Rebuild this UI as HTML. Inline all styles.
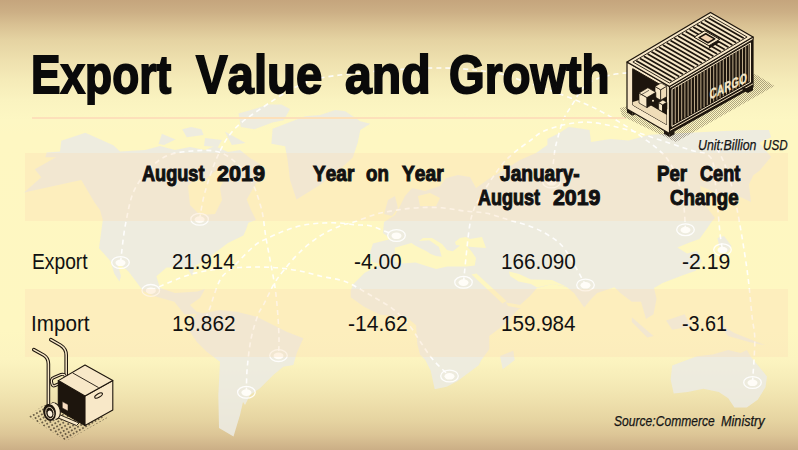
<!DOCTYPE html>
<html><head><meta charset="utf-8"><style>
html,body{margin:0;padding:0;}
body{width:798px;height:450px;overflow:hidden;position:relative;font-family:"Liberation Sans",sans-serif;
background:linear-gradient(to bottom,#c5a57d 0px,#ccaf85 12px,#d9c193 25px,#e5d3a2 40px,#eee0ae 60px,#f5ebb8 80px,#faf3c0 100px,#fdf7c3 120px,#fef7c2 135px,#fef7c1 330px,#fcf4c0 360px,#f6ecb8 380px,#efe1ad 400px,#e6d4a1 420px,#dcc596 435px,#cbae86 450px);}
.t{position:absolute;white-space:pre;transform-origin:0 0;font-kerning:none;}
.band{position:absolute;left:24.7px;width:763.2px;background:rgba(253,222,180,0.32);}
svg{position:absolute;left:0;top:0;}
</style></head><body>
<svg width="798" height="450" viewBox="0 0 798 450" style="position:absolute;left:0;top:0">
<polygon points="24.0,192.5 41.3,177.3 34.7,169.3 56.0,157.3 45.3,157.3 46.7,152.5 60.0,151.5 61.3,140.8 85.3,132.8 113.3,145.3 120.0,151.5 145.3,149.9 160.0,146.0 175.0,150.0 190.0,147.0 205.0,150.0 215.0,146.0 228.0,152.0 240.0,150.0 250.0,158.0 260.0,164.0 262.0,175.0 255.0,185.0 246.7,199.4 251.0,210.0 256.0,220.0 248.4,222.7 245.8,230.3 243.3,235.4 228.0,243.0 207.5,258.4 194.7,266.0 192.2,276.3 187.0,267.4 166.6,267.4 156.4,276.3 160.0,288.0 175.0,293.0 197.3,291.6 205.0,289.0 200.0,298.0 190.0,305.0 196.7,311.7 203.3,313.3 184.5,314.6 174.3,301.8 156.4,296.7 143.6,291.6 128.3,271.2 117.0,262.0 121.0,276.0 119.4,281.4 114.3,273.7 110.4,261.0 99.0,248.2 102.8,220.0 100.0,210.0 94.7,202.7 81.3,180.0" fill="rgba(236,234,226,0.88)"/>
<polygon points="238.6,113.5 254.4,109.0 268.0,104.5 281.4,104.5 290.0,109.0 283.7,120.3 272.4,122.6 254.4,129.3 240.8,127.0" fill="rgba(236,234,226,0.88)"/>
<polygon points="182.2,129.3 191.2,127.0 201.4,129.3 203.6,135.0 186.7,137.2" fill="rgba(236,234,226,0.88)"/>
<polygon points="161.9,133.8 175.4,139.5 164.1,145.0 158.5,144.0" fill="rgba(236,234,226,0.88)"/>
<polygon points="225.0,131.6 245.4,142.9 231.8,145.0" fill="rgba(236,234,226,0.88)"/>
<polygon points="205.0,138.0 222.0,140.0 218.0,147.0 204.0,146.0" fill="rgba(236,234,226,0.88)"/>
<polygon points="305.2,116.3 320.2,115.0 335.3,110.0 345.3,111.3 360.3,121.3 370.3,123.8 360.3,130.0 357.8,142.6 352.8,157.6 341.7,167.7 320.0,185.0 296.5,199.6 290.0,180.0 287.6,160.0 285.1,146.3 271.4,143.8 272.6,128.8" fill="rgba(236,234,226,0.88)"/>
<polygon points="196.7,313.3 203.3,313.3 220.0,310.0 236.7,311.7 256.7,316.7 276.7,326.7 286.7,331.7 303.3,338.3 296.7,353.3 293.3,365.0 283.3,366.7 273.3,375.0 260.0,388.3 250.0,395.0 245.0,405.0 243.0,402.0 240.0,415.0 233.5,436.5 219.0,428.0 218.3,395.0 220.0,361.7 206.7,351.7 196.7,341.7 190.0,331.7 191.7,321.7" fill="rgba(236,234,226,0.88)"/>
<polygon points="373.0,243.5 391.0,239.0 383.0,233.0 384.0,222.0 395.0,215.0 400.0,206.0 405.0,196.0 412.0,188.0 425.0,191.0 440.0,186.0 446.0,178.0 458.0,175.0 470.0,177.0 476.0,188.0 490.0,178.0 504.0,170.0 520.0,160.0 536.0,153.0 547.4,145.0 547.4,139.0 559.4,133.0 568.4,127.0 580.5,128.6 589.5,130.0 591.0,142.0 610.5,139.0 628.6,140.6 649.6,134.8 699.0,132.3 724.0,131.0 753.8,129.9 768.9,129.9 771.2,137.2 759.5,142.7 762.7,147.3 771.2,156.7 759.5,170.7 753.3,175.3 748.9,184.4 751.0,202.0 738.0,196.0 720.0,194.0 700.0,186.0 705.0,205.0 715.0,218.0 711.6,221.8 706.7,229.0 699.4,239.0 689.6,242.6 677.4,247.5 687.0,253.6 697.0,251.0 701.8,261.0 695.7,270.7 682.2,275.6 662.7,283.0 654.0,288.0 656.6,298.7 653.5,314.2 646.0,319.0 641.0,301.8 631.8,301.7 620.3,293.0 614.5,287.3 597.2,293.0 591.4,298.8 584.2,307.5 574.0,293.0 566.6,287.0 552.4,284.0 537.0,288.0 530.0,296.0 520.0,305.0 506.0,302.5 508.0,306.0 521.0,308.5 518.7,309.0 510.7,317.3 500.0,328.0 489.3,336.0 489.3,349.3 481.3,360.0 478.7,365.3 468.0,373.3 457.3,381.3 446.7,386.7 434.7,389.3 430.7,370.7 425.3,360.0 420.0,354.7 417.3,344.0 416.0,325.3 406.7,317.3 380.0,314.7 364.0,306.7 350.7,297.3 350.7,290.7 353.0,284.4 364.7,272.8 378.0,266.0 381.0,264.0 372.0,262.0 370.0,252.6" fill="rgba(236,234,226,0.88)"/>
<polygon points="500.0,356.0 513.3,350.7 514.7,360.0 502.7,369.3" fill="rgba(236,234,226,0.88)"/>
<polygon points="388.0,200.0 395.0,196.0 398.0,208.0 392.0,216.0 384.0,214.0" fill="rgba(236,234,226,0.88)"/>
<polygon points="717.5,238.0 724.0,236.0 731.5,246.0 728.0,252.0 720.0,250.0" fill="rgba(236,234,226,0.88)"/>
<polygon points="631.8,317.3 653.5,336.0 647.3,337.5 631.8,322.0" fill="rgba(236,234,226,0.88)"/>
<polygon points="666.0,320.4 684.6,314.2 690.8,326.6 672.2,329.7" fill="rgba(236,234,226,0.88)"/>
<polygon points="718.8,323.5 734.4,332.9 765.5,345.3 750.0,342.2 728.0,336.0" fill="rgba(236,234,226,0.88)"/>
<polygon points="672.2,365.5 697.0,356.2 712.6,354.6 728.2,350.0 740.6,353.0 746.8,350.0 751.5,357.7 759.3,367.0 767.0,376.4 765.5,387.3 757.7,399.7 746.8,407.5 734.4,407.5 728.2,398.2 718.8,392.0 703.3,388.8 687.7,392.0 673.7,393.5 670.6,379.5" fill="rgba(236,234,226,0.88)"/>
<polygon points="188.0,186.0 196.0,178.0 205.0,180.0 214.0,172.0 222.0,168.0 224.0,180.0 220.0,188.0 222.0,200.0 215.0,214.0 200.0,215.0 190.0,205.0" fill="#fef7c1"/>
<polygon points="395.0,262.0 394.8,247.8 411.4,243.0 415.5,245.7 426.6,251.2 430.7,254.0 436.0,256.0 441.7,256.7 439.0,247.0 429.3,240.2 419.0,240.9 423.0,238.0 432.0,238.0 442.0,244.0 447.0,250.0 452.8,251.2 459.7,245.7 461.0,242.0 466.0,245.0 472.0,252.0 476.0,258.0 474.8,265.5 466.6,266.4 447.2,266.4 436.2,269.1 428.0,266.4 415.5,262.5 401.7,263.5" fill="#fef7c1"/>
<polygon points="460.0,238.0 466.0,237.0 470.0,239.0 482.0,237.0 486.0,248.0 472.0,247.0 456.0,245.0 455.0,242.0" fill="#fef7c1"/>
<polygon points="471.5,274.5 476.5,273.5 506.5,301.0 502.5,303.5" fill="#fef7c1"/>
<polygon points="509.0,271.5 519.0,274.0 531.0,279.5 552.0,280.0 566.0,286.5 552.4,284.0 537.0,287.5 531.0,284.0 518.6,281.6 510.0,276.0" fill="#fef7c1"/>
<polygon points="418.0,196.0 430.0,193.0 440.0,198.0 436.0,206.0 420.0,206.0" fill="#fef7c1"/>
<path d="M120.5,262.5 C121.4,255.8 123.2,235.2 125.8,222.6 C128.4,210.0 130.1,197.5 136.0,186.8 C141.9,176.2 152.1,164.7 161.5,158.7 C170.9,152.7 182.0,151.8 192.2,151.0 C202.4,150.2 213.4,149.3 222.8,153.6 C232.2,157.9 242.0,167.6 248.4,176.6 C254.8,185.6 258.1,197.1 261.0,207.3 C263.9,217.5 264.2,227.6 266.0,238.0 C267.8,248.4 270.4,261.3 272.0,270.0 C273.6,278.7 274.4,282.6 275.4,290.0 C276.4,297.4 277.2,306.2 277.8,314.4 C278.4,322.6 278.9,332.1 279.0,339.0 C279.1,345.9 278.6,352.8 278.5,355.6" fill="none" stroke="#ffffff" stroke-width="1.6" stroke-dasharray="5 4" opacity="0.9"/>
<path d="M199.6,219.3 C200.5,214.8 202.0,202.6 205.0,192.0 C208.0,181.4 213.0,166.2 217.7,156.0 C222.4,145.8 226.2,138.3 233.0,130.7 C239.8,123.1 247.4,117.8 258.6,110.2 C269.8,102.6 286.4,90.9 300.0,85.0 C313.6,79.1 318.3,77.8 340.0,75.0 C361.7,72.2 405.0,68.5 430.0,68.0 C455.0,67.5 473.9,69.6 490.0,72.0 C506.1,74.4 512.4,77.5 526.7,82.2 C541.0,86.9 562.7,94.8 575.6,100.0 C588.5,105.2 593.7,107.4 604.4,113.3 C615.1,119.2 629.4,127.8 640.0,135.6 C650.6,143.4 661.0,150.1 668.0,160.0 C675.0,169.9 679.1,183.4 682.0,195.0 C684.9,206.6 684.9,223.9 685.5,229.7" fill="none" stroke="#ffffff" stroke-width="1.6" stroke-dasharray="5 4" opacity="0.9"/>
<path d="M551.5,182.0 C552.0,177.2 553.4,160.7 554.4,153.3 C555.4,145.9 556.3,143.4 557.8,137.8 C559.3,132.2 561.1,125.2 563.3,120.0 C565.5,114.8 567.1,112.6 571.0,106.7 C574.9,100.8 580.0,89.7 586.7,84.4 C593.4,79.1 602.1,77.1 611.0,75.0 C619.9,72.9 635.2,72.5 640.0,72.0" fill="none" stroke="#ffffff" stroke-width="1.6" stroke-dasharray="5 4" opacity="0.9"/>
<path d="M463.5,282.3 C464.4,273.8 467.3,242.9 468.9,231.0 C470.5,219.1 471.4,216.5 473.3,211.0 C475.2,205.5 477.1,203.0 480.0,197.8 C482.9,192.6 487.3,185.6 491.0,180.0 C494.7,174.4 498.5,168.8 502.2,164.4 C505.9,160.0 508.5,157.4 513.3,153.3 C518.1,149.2 525.9,143.7 531.0,140.0 C536.1,136.3 537.8,133.7 544.0,131.0 C550.2,128.3 559.9,125.4 568.0,124.0 C576.1,122.6 582.4,121.5 592.5,122.5 C602.6,123.5 617.4,127.1 628.6,130.0 C639.9,132.9 649.8,136.7 660.0,140.0 C670.2,143.3 681.5,147.0 690.0,150.0 C698.5,153.0 706.7,151.3 711.0,158.0 C715.3,164.7 714.5,177.5 716.0,190.0 C717.5,202.5 718.9,223.0 720.0,233.0 C721.1,243.0 722.1,247.0 722.5,249.8" fill="none" stroke="#ffffff" stroke-width="1.6" stroke-dasharray="5 4" opacity="0.9"/>
<path d="M246.4,392.3 C246.5,388.3 246.4,377.1 247.2,368.2 C248.0,359.3 249.2,348.0 251.0,339.0 C252.8,330.0 256.0,320.2 258.2,314.4 C260.4,308.6 261.4,309.1 264.0,304.0 C266.6,298.9 270.7,289.7 274.0,284.0 C277.3,278.3 279.7,275.3 284.0,270.0 C288.3,264.7 294.0,257.7 300.0,252.0 C306.0,246.3 313.3,240.3 320.0,236.0 C326.7,231.7 334.1,228.4 340.0,226.0 C345.9,223.6 349.2,223.6 355.3,221.6 C361.4,219.6 369.5,215.9 376.6,214.0 C383.7,212.1 390.9,211.0 398.0,209.9 C405.1,208.8 412.0,208.0 419.3,207.7 C426.6,207.3 434.5,207.2 442.0,207.8 C449.5,208.4 456.9,210.1 464.4,211.0 C471.8,211.9 479.3,211.8 486.7,213.3 C494.1,214.8 501.6,217.8 509.0,220.0 C516.4,222.2 524.3,224.1 531.0,226.7 C537.7,229.3 543.3,231.8 549.0,235.6 C554.7,239.4 558.9,241.3 565.0,249.5 C571.1,257.7 582.1,279.1 585.5,285.0" fill="none" stroke="#ffffff" stroke-width="1.6" stroke-dasharray="5 4" opacity="0.9"/>
<path d="M150.8,290.4 C155.7,288.3 171.8,281.1 180.0,278.0 C188.2,274.9 193.3,273.5 200.0,272.0 C206.7,270.5 213.3,269.8 220.0,269.0 C226.7,268.2 233.3,267.8 240.0,267.5 C246.7,267.2 253.3,266.9 260.0,267.0 C266.7,267.1 273.3,267.3 280.0,268.0 C286.7,268.7 293.3,269.7 300.0,271.0 C306.7,272.3 313.3,274.5 320.0,276.0 C326.7,277.5 334.9,278.7 340.0,280.0 C345.1,281.3 345.4,281.3 350.7,284.0 C356.0,286.7 364.9,291.8 372.0,296.0 C379.1,300.2 387.1,304.4 393.3,309.3 C399.5,314.2 404.9,320.0 409.3,325.3 C413.8,330.6 416.0,335.5 420.0,341.3 C424.0,347.1 428.4,354.2 433.3,360.0 C438.2,365.8 446.8,373.3 449.5,376.0" fill="none" stroke="#ffffff" stroke-width="1.6" stroke-dasharray="5 4" opacity="0.9"/>
<path d="M205.0,318.0 C205.7,316.6 206.8,315.9 209.3,309.6 C211.8,303.3 215.9,287.3 220.0,280.0 C224.1,272.7 228.3,271.7 234.0,266.0 C239.7,260.3 248.7,250.5 254.0,246.0 C259.3,241.5 261.0,241.5 266.0,239.0 C271.0,236.5 277.7,233.3 284.0,231.0 C290.3,228.7 297.3,226.3 304.0,225.0 C310.7,223.7 318.0,223.3 324.0,223.0 C330.0,222.7 334.8,222.7 340.0,223.0 C345.2,223.3 350.3,224.3 355.3,224.8 C360.3,225.3 365.2,224.7 370.2,225.8 C375.1,226.9 380.6,229.6 385.0,231.2 C389.4,232.8 394.6,234.8 396.5,235.5" fill="none" stroke="#ffffff" stroke-width="1.6" stroke-dasharray="5 4" opacity="0.9"/>
<path d="M752.5,382.5 C752.9,375.4 754.9,351.1 754.8,340.0 C754.7,328.9 753.3,328.0 752.0,316.0 C750.7,304.0 749.5,286.7 746.8,268.0 C744.1,249.3 739.6,221.2 736.0,204.0 C732.4,186.8 729.0,175.7 725.0,165.0 C721.0,154.3 714.2,144.2 712.0,140.0" fill="none" stroke="#ffffff" stroke-width="1.6" stroke-dasharray="5 4" opacity="0.9"/>
<ellipse cx="120.5" cy="262.5" rx="8.8" ry="5.9" fill="none" stroke="#ffffff" stroke-width="1.3" opacity="0.9"/>
<ellipse cx="120.5" cy="262.8" rx="5" ry="3.3" fill="#fffdf8"/>
<ellipse cx="150.8" cy="290.4" rx="8.8" ry="5.9" fill="none" stroke="#ffffff" stroke-width="1.3" opacity="0.9"/>
<ellipse cx="150.8" cy="290.7" rx="5" ry="3.3" fill="#fffdf8"/>
<ellipse cx="199.6" cy="219.3" rx="8.8" ry="5.9" fill="none" stroke="#ffffff" stroke-width="1.3" opacity="0.9"/>
<ellipse cx="199.6" cy="219.60000000000002" rx="5" ry="3.3" fill="#fffdf8"/>
<ellipse cx="278.5" cy="355.6" rx="8.8" ry="5.9" fill="none" stroke="#ffffff" stroke-width="1.3" opacity="0.9"/>
<ellipse cx="278.5" cy="355.90000000000003" rx="5" ry="3.3" fill="#fffdf8"/>
<ellipse cx="246.4" cy="392.3" rx="8.8" ry="5.9" fill="none" stroke="#ffffff" stroke-width="1.3" opacity="0.9"/>
<ellipse cx="246.4" cy="392.6" rx="5" ry="3.3" fill="#fffdf8"/>
<ellipse cx="396.5" cy="235.5" rx="8.8" ry="5.9" fill="none" stroke="#ffffff" stroke-width="1.3" opacity="0.9"/>
<ellipse cx="396.5" cy="235.8" rx="5" ry="3.3" fill="#fffdf8"/>
<ellipse cx="463.5" cy="282.3" rx="8.8" ry="5.9" fill="none" stroke="#ffffff" stroke-width="1.3" opacity="0.9"/>
<ellipse cx="463.5" cy="282.6" rx="5" ry="3.3" fill="#fffdf8"/>
<ellipse cx="449.5" cy="376" rx="8.8" ry="5.9" fill="none" stroke="#ffffff" stroke-width="1.3" opacity="0.9"/>
<ellipse cx="449.5" cy="376.3" rx="5" ry="3.3" fill="#fffdf8"/>
<ellipse cx="585.5" cy="285" rx="8.8" ry="5.9" fill="none" stroke="#ffffff" stroke-width="1.3" opacity="0.9"/>
<ellipse cx="585.5" cy="285.3" rx="5" ry="3.3" fill="#fffdf8"/>
<ellipse cx="685.5" cy="229.7" rx="8.8" ry="5.9" fill="none" stroke="#ffffff" stroke-width="1.3" opacity="0.9"/>
<ellipse cx="685.5" cy="230.0" rx="5" ry="3.3" fill="#fffdf8"/>
<ellipse cx="722.5" cy="249.8" rx="8.8" ry="5.9" fill="none" stroke="#ffffff" stroke-width="1.3" opacity="0.9"/>
<ellipse cx="722.5" cy="250.10000000000002" rx="5" ry="3.3" fill="#fffdf8"/>
<ellipse cx="752.5" cy="382.5" rx="8.8" ry="5.9" fill="none" stroke="#ffffff" stroke-width="1.3" opacity="0.9"/>
<ellipse cx="752.5" cy="382.8" rx="5" ry="3.3" fill="#fffdf8"/>
<ellipse cx="551.5" cy="182" rx="8.8" ry="5.9" fill="none" stroke="#ffffff" stroke-width="1.3" opacity="0.9"/>
<ellipse cx="551.5" cy="182.3" rx="5" ry="3.3" fill="#fffdf8"/>
</svg>
<div class="band" style="top:153px;height:67.7px"></div>
<div class="band" style="top:289.3px;height:67.8px"></div>
<div style="position:absolute;left:32.3px;top:117px;width:594px;height:2px;background:#fde0ba"></div>
<svg width="798" height="450" viewBox="0 0 798 450" style="position:absolute;left:0;top:0"><defs>
<pattern id="dots" width="2" height="2" patternUnits="userSpaceOnUse"><rect x="0" y="0" width="1" height="1" fill="#4a3c28" opacity="0.42"/><rect x="1" y="1" width="1" height="1" fill="#4a3c28" opacity="0.42"/></pattern>
<pattern id="dots2" width="3.6" height="3.6" patternUnits="userSpaceOnUse" patternTransform="rotate(-30)"><circle cx="1.8" cy="1.8" r="0.8" fill="#2a2015" opacity="0.95"/></pattern>
</defs>
<polygon points="620.00,108.00 622.00,116.00 676.00,142.00 774.50,86.00 755.00,74.00" fill="url(#dots)" />
<polygon points="669.50,86.50 753.00,37.00 753.00,86.82 669.50,133.50" fill="#1d150d" stroke="#1d150d" stroke-width="1.2" stroke-linejoin="round" />
<polygon points="669.50,86.50 753.00,37.00 753.00,39.49 669.50,88.85" fill="#f8e8c8" stroke="#1d150d" stroke-width="0.8" stroke-linejoin="round" />
<polygon points="672.00,89.25 750.50,42.96 750.50,82.25 672.00,126.45" fill="none" stroke="#f8e8c8" stroke-width="1.0" stroke-linejoin="round" />
<line x1="675.28" y1="87.80" x2="675.28" y2="123.19" stroke="#d2bd98" stroke-width="0.9" />
<line x1="678.48" y1="85.91" x2="678.48" y2="121.39" stroke="#d2bd98" stroke-width="0.9" />
<line x1="681.68" y1="84.02" x2="681.68" y2="119.58" stroke="#d2bd98" stroke-width="0.9" />
<line x1="684.88" y1="82.14" x2="684.88" y2="117.78" stroke="#d2bd98" stroke-width="0.9" />
<line x1="688.08" y1="80.25" x2="688.08" y2="115.97" stroke="#d2bd98" stroke-width="0.9" />
<line x1="691.28" y1="78.36" x2="691.28" y2="114.16" stroke="#d2bd98" stroke-width="0.9" />
<line x1="694.48" y1="76.48" x2="694.48" y2="112.36" stroke="#d2bd98" stroke-width="0.9" />
<line x1="697.68" y1="74.59" x2="697.68" y2="110.55" stroke="#d2bd98" stroke-width="0.9" />
<line x1="700.88" y1="72.70" x2="700.88" y2="108.75" stroke="#d2bd98" stroke-width="0.9" />
<line x1="704.08" y1="70.82" x2="704.08" y2="106.94" stroke="#d2bd98" stroke-width="0.9" />
<line x1="707.28" y1="68.93" x2="707.28" y2="105.14" stroke="#d2bd98" stroke-width="0.9" />
<line x1="710.48" y1="67.04" x2="710.48" y2="103.33" stroke="#d2bd98" stroke-width="0.9" />
<line x1="713.69" y1="65.16" x2="713.69" y2="101.52" stroke="#d2bd98" stroke-width="0.9" />
<line x1="716.89" y1="63.27" x2="716.89" y2="99.72" stroke="#d2bd98" stroke-width="0.9" />
<line x1="720.09" y1="61.38" x2="720.09" y2="97.91" stroke="#d2bd98" stroke-width="0.9" />
<line x1="723.29" y1="59.50" x2="723.29" y2="96.11" stroke="#d2bd98" stroke-width="0.9" />
<line x1="726.49" y1="57.61" x2="726.49" y2="94.30" stroke="#d2bd98" stroke-width="0.9" />
<line x1="729.69" y1="55.72" x2="729.69" y2="92.50" stroke="#d2bd98" stroke-width="0.9" />
<line x1="732.89" y1="53.84" x2="732.89" y2="90.69" stroke="#d2bd98" stroke-width="0.9" />
<line x1="736.09" y1="51.95" x2="736.09" y2="88.89" stroke="#d2bd98" stroke-width="0.9" />
<line x1="739.29" y1="50.06" x2="739.29" y2="87.08" stroke="#d2bd98" stroke-width="0.9" />
<line x1="742.49" y1="48.18" x2="742.49" y2="85.27" stroke="#d2bd98" stroke-width="0.9" />
<line x1="745.69" y1="46.29" x2="745.69" y2="83.47" stroke="#d2bd98" stroke-width="0.9" />
<line x1="748.89" y1="44.40" x2="748.89" y2="81.66" stroke="#d2bd98" stroke-width="0.9" />
<line x1="669.50" y1="130.68" x2="753.00" y2="83.83" stroke="#efdcb8" stroke-width="1.0" />
<polygon points="627.00,109.00 632.52,112.19 632.52,115.69 627.00,112.50" fill="#1d150d" />
<polygon points="632.52,112.19 637.53,109.38 637.53,112.88 632.52,115.69" fill="#1d150d" />
<polygon points="663.98,130.31 669.50,133.50 669.50,137.00 663.98,133.81" fill="#1d150d" />
<polygon points="669.50,133.50 674.51,130.70 674.51,134.20 669.50,137.00" fill="#1d150d" />
<polygon points="742.47,86.44 747.99,89.62 747.99,93.12 742.47,89.94" fill="#1d150d" />
<polygon points="747.99,89.62 753.00,86.82 753.00,90.32 747.99,93.12" fill="#1d150d" />
<polygon points="627.00,62.00 669.50,86.50 669.50,133.50 627.00,109.00" fill="#f8e8c8" stroke="#1d150d" stroke-width="1.2" stroke-linejoin="round" />
<polygon points="632.70,68.71 666.52,88.22 666.52,124.50 632.70,105.00" fill="#1d150d" stroke="#1d150d" stroke-width="1.0" stroke-linejoin="round" />
<polygon points="632.70,105.00 666.52,124.50 666.52,114.86 641.00,99.50 632.70,101.94" fill="#efdcb8" />
<polygon points="655.00,97.00 660.63,100.25 660.63,89.75 655.00,86.50" fill="#f8e8c8" stroke="#1d150d" stroke-width="0.7" stroke-linejoin="round" />
<polygon points="660.63,100.25 666.65,96.68 666.65,86.18 660.63,89.75" fill="#efdcb8" stroke="#1d150d" stroke-width="0.7" stroke-linejoin="round" />
<polygon points="655.00,86.50 660.63,89.75 666.65,86.18 661.02,82.93" fill="#f8e8c8" stroke="#1d150d" stroke-width="0.7" stroke-linejoin="round" />
<polygon points="639.00,103.00 646.97,107.59 646.97,97.59 639.00,93.00" fill="#f8e8c8" stroke="#1d150d" stroke-width="0.7" stroke-linejoin="round" />
<polygon points="646.97,107.59 655.83,102.34 655.83,92.34 646.97,97.59" fill="#1d150d" stroke="#1d150d" stroke-width="0.7" stroke-linejoin="round" />
<polygon points="639.00,93.00 646.97,97.59 655.83,92.34 647.86,87.75" fill="#f8e8c8" stroke="#1d150d" stroke-width="0.7" stroke-linejoin="round" />
<circle cx="653" cy="100.8" r="1" fill="#f8e8c8"/>
<line x1="640.50" y1="95.20" x2="649.00" y2="90.30" stroke="#1d150d" stroke-width="0.6" />
<polygon points="658.60,109.50 662.58,111.80 662.58,104.80 658.60,102.50" fill="#f8e8c8" stroke="#1d150d" stroke-width="0.7" stroke-linejoin="round" />
<polygon points="662.58,111.80 666.88,109.25 666.88,102.25 662.58,104.80" fill="#1d150d" stroke="#1d150d" stroke-width="0.7" stroke-linejoin="round" />
<polygon points="658.60,102.50 662.58,104.80 666.88,102.25 662.90,99.95" fill="#f8e8c8" stroke="#1d150d" stroke-width="0.7" stroke-linejoin="round" />
<polygon points="627.00,62.00 710.50,12.50 753.00,37.00 669.50,86.50" fill="#f8e8c8" stroke="#1d150d" stroke-width="1.3" stroke-linejoin="round" />
<polygon points="632.90,61.98 710.55,15.95 747.10,37.02 669.45,83.05" fill="#f8e8c8" stroke="#1d150d" stroke-width="0.9" stroke-linejoin="round" />
<line x1="636.27" y1="60.73" x2="671.54" y2="81.06" stroke="#1d150d" stroke-width="1.7" />
<line x1="640.07" y1="58.48" x2="675.34" y2="78.81" stroke="#1d150d" stroke-width="1.7" />
<line x1="643.87" y1="56.22" x2="679.14" y2="76.56" stroke="#1d150d" stroke-width="1.7" />
<line x1="647.67" y1="53.97" x2="682.94" y2="74.31" stroke="#1d150d" stroke-width="1.7" />
<line x1="651.47" y1="51.72" x2="686.74" y2="72.05" stroke="#1d150d" stroke-width="1.7" />
<line x1="655.27" y1="49.47" x2="690.54" y2="69.80" stroke="#1d150d" stroke-width="1.7" />
<line x1="659.07" y1="47.22" x2="694.34" y2="67.55" stroke="#1d150d" stroke-width="1.7" />
<line x1="662.86" y1="44.96" x2="698.14" y2="65.30" stroke="#1d150d" stroke-width="1.7" />
<line x1="666.66" y1="42.71" x2="701.94" y2="63.05" stroke="#1d150d" stroke-width="1.7" />
<line x1="670.46" y1="40.46" x2="705.74" y2="60.79" stroke="#1d150d" stroke-width="1.7" />
<line x1="674.26" y1="38.21" x2="709.54" y2="58.54" stroke="#1d150d" stroke-width="1.7" />
<line x1="678.06" y1="35.95" x2="713.34" y2="56.29" stroke="#1d150d" stroke-width="1.7" />
<line x1="681.86" y1="33.70" x2="717.14" y2="54.04" stroke="#1d150d" stroke-width="1.7" />
<line x1="685.66" y1="31.45" x2="720.93" y2="51.78" stroke="#1d150d" stroke-width="1.7" />
<line x1="689.46" y1="29.20" x2="724.73" y2="49.53" stroke="#1d150d" stroke-width="1.7" />
<line x1="693.26" y1="26.95" x2="728.53" y2="47.28" stroke="#1d150d" stroke-width="1.7" />
<line x1="697.06" y1="24.69" x2="732.33" y2="45.03" stroke="#1d150d" stroke-width="1.7" />
<line x1="700.86" y1="22.44" x2="736.13" y2="42.78" stroke="#1d150d" stroke-width="1.7" />
<line x1="704.66" y1="20.19" x2="739.93" y2="40.52" stroke="#1d150d" stroke-width="1.7" />
<line x1="708.46" y1="17.94" x2="743.73" y2="38.27" stroke="#1d150d" stroke-width="1.7" />
<polygon points="704.88,30.74 719.75,39.31 708.90,45.75 708.90,48.75 719.75,42.31 704.88,33.74" fill="#1d150d" />
<polygon points="694.02,37.17 704.88,30.74 719.75,39.31 708.90,45.75" fill="#f8e8c8" stroke="#1d150d" stroke-width="1.0" stroke-linejoin="round" />
<polygon points="699.09,37.65 705.77,33.69 714.69,38.84 708.01,42.80" fill="#f3d3b0" stroke="#1d150d" stroke-width="1.6" stroke-linejoin="round" />
<text x="0" y="0" transform="translate(709.8,99.6) skewY(-25.5) scale(0.68,1)" font-family="Liberation Sans" font-weight="bold" font-size="14" fill="#f8e8c8" stroke="#f8e8c8" stroke-width="0.35" letter-spacing="0.6">CARGO</text>
<polygon points="28.00,416.00 44.00,405.00 108.00,417.50 66.00,441.00" fill="url(#dots2)" />
<polygon points="58.00,414.00 79.00,423.00 76.50,425.50 56.00,417.00" fill="#f8e8c8" stroke="#1d150d" stroke-width="0.9" stroke-linejoin="round" />
<path d="M50.8,339.6 L60.5,345.2 Q66.2,348.8 66.2,355 L66.2,381" fill="none" stroke="#1d150d" stroke-width="3.6" stroke-linecap="round" stroke-linejoin="round"/>
<path d="M50.8,339.6 L60.5,345.2 Q66.2,348.8 66.2,355 L66.2,381" fill="none" stroke="#f8e8c8" stroke-width="1.5" stroke-linecap="round" stroke-linejoin="round"/>
<path d="M33.8,349.6 L43.8,355.2 Q48.4,358 48.4,364 L48.4,407" fill="none" stroke="#1d150d" stroke-width="3.6" stroke-linecap="round" stroke-linejoin="round"/>
<path d="M33.8,349.6 L43.8,355.2 Q48.4,358 48.4,364 L48.4,407" fill="none" stroke="#f8e8c8" stroke-width="1.5" stroke-linecap="round" stroke-linejoin="round"/>
<path d="M52,384 Q50,379 54,377.5 L61,374.5 Q65,373.5 65.5,377 Q66,381 62,382.5 L55,385.5 Q52.5,386.5 52,384 Z" fill="none" stroke="#1d150d" stroke-width="3.2"/>
<path d="M52,384 Q50,379 54,377.5 L61,374.5 Q65,373.5 65.5,377 Q66,381 62,382.5 L55,385.5 Q52.5,386.5 52,384 Z" fill="none" stroke="#f8e8c8" stroke-width="1.2"/>
<polygon points="58.30,380.60 85.00,396.10 85.00,425.60 58.30,410.10" fill="#1d150d" stroke="#1d150d" stroke-width="1.1" stroke-linejoin="round" />
<polygon points="85.00,396.10 112.80,380.60 112.80,410.10 85.00,425.60" fill="#f8e8c8" stroke="#1d150d" stroke-width="1.1" stroke-linejoin="round" />
<polygon points="58.30,380.60 85.00,365.00 112.80,380.60 85.00,396.10" fill="#f8e8c8" stroke="#1d150d" stroke-width="1.1" stroke-linejoin="round" />
<line x1="72.60" y1="372.90" x2="98.60" y2="387.60" stroke="#1d150d" stroke-width="0.9" />
<ellipse cx="98.6" cy="395.5" rx="4.3" ry="1.7" transform="rotate(-30 98.6 395.5)" fill="#f8e8c8" stroke="#1d150d" stroke-width="1.1"/>
<polygon points="62.30,401.50 68.00,404.60 68.00,411.00 62.30,408.00" fill="#f7dcc0" stroke="#1d150d" stroke-width="0.5" stroke-linejoin="round" />
<ellipse cx="54.6" cy="411" rx="5.6" ry="8.4" transform="rotate(-12 54.6 411)" fill="#f8e8c8" stroke="#1d150d" stroke-width="1"/>
<polygon points="49.60,404.00 54.60,402.60 55.60,419.40 50.00,421.00" fill="#f8e8c8" />
<ellipse cx="49.6" cy="412.4" rx="6.3" ry="8.6" transform="rotate(-12 49.6 412.4)" fill="#1d150d"/>
<ellipse cx="49.8" cy="413" rx="4.0" ry="5.8" transform="rotate(-12 49.8 413)" fill="none" stroke="#f8e8c8" stroke-width="0.8"/>
<ellipse cx="50" cy="413.6" rx="2.3" ry="3.2" transform="rotate(-12 50 413.6)" fill="#fbf0dc"/>
</svg>
<span class="t" style="left:31.47px;top:47.95px;font-size:54.51px;line-height:54.51px;font-weight:bold;font-style:normal;color:#0a0a0a;transform:scaleX(0.8118);-webkit-text-stroke:1.8px #0a0a0a">Export</span>
<span class="t" style="left:195.56px;top:47.95px;font-size:54.51px;line-height:54.51px;font-weight:bold;font-style:normal;color:#0a0a0a;transform:scaleX(0.8684);-webkit-text-stroke:1.8px #0a0a0a">Value</span>
<span class="t" style="left:344.88px;top:47.95px;font-size:54.51px;line-height:54.51px;font-weight:bold;font-style:normal;color:#0a0a0a;transform:scaleX(0.8844);-webkit-text-stroke:1.8px #0a0a0a">and</span>
<span class="t" style="left:448.88px;top:47.95px;font-size:54.51px;line-height:54.51px;font-weight:bold;font-style:normal;color:#0a0a0a;transform:scaleX(0.8415);-webkit-text-stroke:1.8px #0a0a0a">Growth</span>
<span class="t" style="left:142.48px;top:162.99px;font-size:21.22px;line-height:21.22px;font-weight:bold;font-style:normal;color:#111;transform:scaleX(0.8554);-webkit-text-stroke:1.0px #111">August</span>
<span class="t" style="left:217.46px;top:162.99px;font-size:21.22px;line-height:21.22px;font-weight:bold;font-style:normal;color:#111;transform:scaleX(1.0196);-webkit-text-stroke:1.0px #111">2019</span>
<span class="t" style="left:313.12px;top:162.99px;font-size:21.22px;line-height:21.22px;font-weight:bold;font-style:normal;color:#111;transform:scaleX(0.8978);-webkit-text-stroke:1.0px #111">Year</span>
<span class="t" style="left:366.11px;top:162.99px;font-size:21.22px;line-height:21.22px;font-weight:bold;font-style:normal;color:#111;transform:scaleX(0.8797);-webkit-text-stroke:1.0px #111">on</span>
<span class="t" style="left:401.62px;top:162.99px;font-size:21.22px;line-height:21.22px;font-weight:bold;font-style:normal;color:#111;transform:scaleX(0.9043);-webkit-text-stroke:1.0px #111">Year</span>
<span class="t" style="left:499.66px;top:162.99px;font-size:21.22px;line-height:21.22px;font-weight:bold;font-style:normal;color:#111;transform:scaleX(0.9005);-webkit-text-stroke:1.0px #111">January-</span>
<span class="t" style="left:478.38px;top:186.99px;font-size:21.22px;line-height:21.22px;font-weight:bold;font-style:normal;color:#111;transform:scaleX(0.8473);-webkit-text-stroke:1.0px #111">August</span>
<span class="t" style="left:553.06px;top:186.99px;font-size:21.22px;line-height:21.22px;font-weight:bold;font-style:normal;color:#111;transform:scaleX(1.0046);-webkit-text-stroke:1.0px #111">2019</span>
<span class="t" style="left:657.29px;top:162.99px;font-size:21.22px;line-height:21.22px;font-weight:bold;font-style:normal;color:#111;transform:scaleX(0.8813);-webkit-text-stroke:1.0px #111">Per</span>
<span class="t" style="left:700.48px;top:162.99px;font-size:21.22px;line-height:21.22px;font-weight:bold;font-style:normal;color:#111;transform:scaleX(0.8527);-webkit-text-stroke:1.0px #111">Cent</span>
<span class="t" style="left:670.37px;top:186.99px;font-size:21.22px;line-height:21.22px;font-weight:bold;font-style:normal;color:#111;transform:scaleX(0.8806);-webkit-text-stroke:1.0px #111">Change</span>
<span class="t" style="left:32.02px;top:249.99px;font-size:22.82px;line-height:22.82px;font-weight:normal;font-style:normal;color:#111;transform:scaleX(0.8433);-webkit-text-stroke:0px #111">Export</span>
<span class="t" style="left:172.47px;top:249.99px;font-size:22.82px;line-height:22.82px;font-weight:normal;font-style:normal;color:#111;transform:scaleX(0.8958);-webkit-text-stroke:0px #111">21.914</span>
<span class="t" style="left:353.77px;top:249.99px;font-size:22.82px;line-height:22.82px;font-weight:normal;font-style:normal;color:#111;transform:scaleX(0.9160);-webkit-text-stroke:0px #111">-4.00</span>
<span class="t" style="left:501.32px;top:249.99px;font-size:22.82px;line-height:22.82px;font-weight:normal;font-style:normal;color:#111;transform:scaleX(0.9066);-webkit-text-stroke:0px #111">166.090</span>
<span class="t" style="left:681.56px;top:249.99px;font-size:22.82px;line-height:22.82px;font-weight:normal;font-style:normal;color:#111;transform:scaleX(0.9275);-webkit-text-stroke:0px #111">-2.19</span>
<span class="t" style="left:31.39px;top:311.99px;font-size:22.82px;line-height:22.82px;font-weight:normal;font-style:normal;color:#111;transform:scaleX(0.9055);-webkit-text-stroke:0px #111">Import</span>
<span class="t" style="left:171.92px;top:311.99px;font-size:22.82px;line-height:22.82px;font-weight:normal;font-style:normal;color:#111;transform:scaleX(0.9102);-webkit-text-stroke:0px #111">19.862</span>
<span class="t" style="left:348.16px;top:311.99px;font-size:22.82px;line-height:22.82px;font-weight:normal;font-style:normal;color:#111;transform:scaleX(0.9226);-webkit-text-stroke:0px #111">-14.62</span>
<span class="t" style="left:501.33px;top:311.99px;font-size:22.82px;line-height:22.82px;font-weight:normal;font-style:normal;color:#111;transform:scaleX(0.9041);-webkit-text-stroke:0px #111">159.984</span>
<span class="t" style="left:681.62px;top:311.99px;font-size:22.82px;line-height:22.82px;font-weight:normal;font-style:normal;color:#111;transform:scaleX(0.8680);-webkit-text-stroke:0px #111">-3.61</span>
<span class="t" style="left:697.59px;top:139.33px;font-size:13.88px;line-height:13.88px;font-weight:normal;font-style:italic;color:#151515;transform:scaleX(0.8915);-webkit-text-stroke:0.25px #151515">Unit:Billion</span>
<span class="t" style="left:763.44px;top:139.33px;font-size:13.88px;line-height:13.88px;font-weight:normal;font-style:italic;color:#151515;transform:scaleX(0.8371);-webkit-text-stroke:0.25px #151515">USD</span>
<span class="t" style="left:613.66px;top:414.17px;font-size:14.61px;line-height:14.61px;font-weight:normal;font-style:italic;color:#151515;transform:scaleX(0.8277);-webkit-text-stroke:0.25px #151515">Source:Commerce</span>
<span class="t" style="left:721.42px;top:414.17px;font-size:14.61px;line-height:14.61px;font-weight:normal;font-style:italic;color:#151515;transform:scaleX(0.8673);-webkit-text-stroke:0.25px #151515">Ministry</span>
</body></html>
